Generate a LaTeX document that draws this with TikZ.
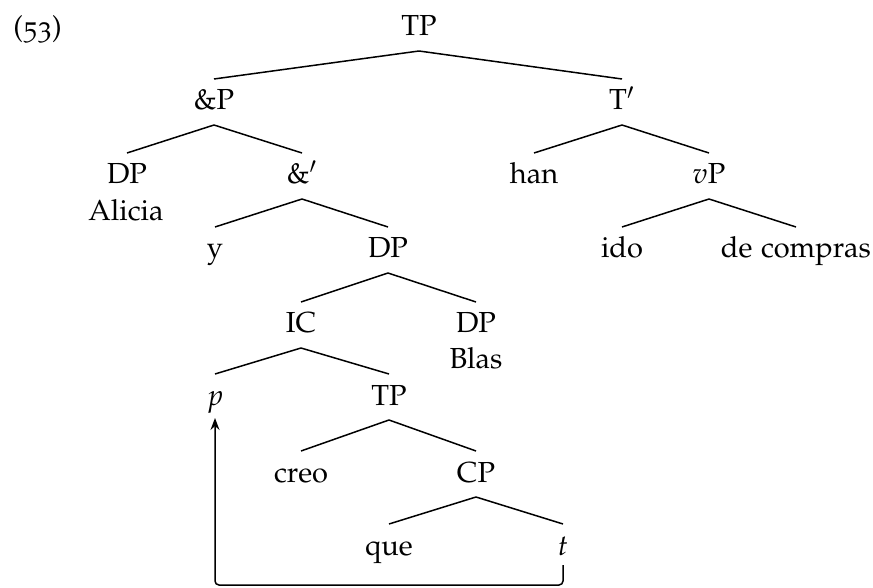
\documentclass[tikz,border=0pt]{standalone}
\usepackage[T1]{fontenc}
\usepackage[osf]{mathpazo}
\usetikzlibrary{arrows.meta}
\newcommand\treebranch[2]{\draw[branch] ([yshift=-7.5pt]#1.base) -- ([yshift=15.5pt]#2.base);}
\begin{document}
\begin{tikzpicture}[x=0.5pt,y=-0.5pt,
  lab/.style={anchor=base,inner sep=0pt,font=\fontsize{14.5}{17}\selectfont},
  branch/.style={line width=0.75pt},
  movearrow/.style={line width=0.75pt,rounded corners=2pt,-{Stealth[length=6pt,width=4.5pt,inset=2pt]}}]
\useasboundingbox (0,0) rectangle (873,588);
\node[lab,anchor=base west] (exno) at (13,37) {(53)};
% level 0
\node[lab] (TP) at (419,36) {TP};
% level 1
\node[lab] (andP) at (214,110) {\&P};
\node[lab] (Tbar) at (622,110) {T$'$};
% level 2
\node[lab] (DPa) at (127,184) {DP};
\node[lab] (Alicia) at (126,221) {Alicia};
\node[lab] (andbar) at (302,184) {\&$'$};
\node[lab] (han) at (534,184) {han};
\node[lab] (vP) at (709,184) {$v$P};
% level 3
\node[lab] (y) at (215,258) {y};
\node[lab] (DPb) at (388,258) {DP};
\node[lab] (ido) at (622,258) {ido};
\node[lab] (compras) at (796,258) {de compras};
% level 4
\node[lab] (IC) at (301,333) {IC};
\node[lab] (DPc) at (476,333) {DP};
\node[lab] (Blas) at (476,368) {Blas};
% level 5
\node[lab] (p) at (215,405) {$p$};
\node[lab] (TPb) at (389,405) {TP};
% level 6
\node[lab] (creo) at (301,482) {creo};
\node[lab] (CP) at (476,482) {CP};
% level 7
\node[lab] (que) at (389,555) {que};
\node[lab] (t) at (563,555) {$t$};
% branches
\treebranch{TP}{andP}
\treebranch{TP}{Tbar}
\treebranch{andP}{DPa}
\treebranch{andP}{andbar}
\treebranch{Tbar}{han}
\treebranch{Tbar}{vP}
\treebranch{andbar}{y}
\treebranch{andbar}{DPb}
\treebranch{vP}{ido}
\treebranch{vP}{compras}
\treebranch{DPb}{IC}
\treebranch{DPb}{DPc}
\treebranch{IC}{p}
\treebranch{IC}{TPb}
\treebranch{TPb}{creo}
\treebranch{TPb}{CP}
\treebranch{CP}{que}
\treebranch{CP}{t}
% movement arrow
\coordinate (bot) at (400,585);
\draw[movearrow] ([yshift=-5pt]t.base) |- (bot) -| ([yshift=-6.5pt]p.base);
\end{tikzpicture}
\end{document}
